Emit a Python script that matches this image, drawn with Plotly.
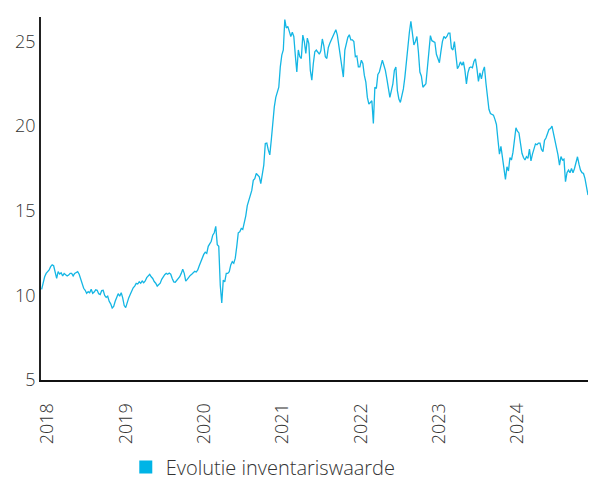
import pandas as pd
import plotly.graph_objects as go

# Weekly net asset value ("inventariswaarde"), Dec 2017 - Nov 2024
start_date = "2017-12-04"
nav_values = [
    10.35, 10.8, 11.1, 11.3, 11.4, 11.5, 11.7, 11.8, 11.75, 11.45,
    11.0, 11.4, 11.26, 11.34, 11.15, 11.3, 11.25, 11.15, 11.2, 11.3,
    11.3, 11.15, 11.3, 11.34, 11.4, 11.25, 10.95, 10.6, 10.42, 10.3,
    10.12, 10.22, 10.16, 10.36, 10.12, 10.2, 10.33, 10.3, 10.1, 10.05,
    10.28, 10.3, 10.0, 9.88, 9.95, 9.65, 9.5, 9.25, 9.35, 9.65,
    9.95, 10.1, 9.95, 10.16, 9.85, 9.4, 9.28, 9.6, 9.85, 10.05,
    10.28, 10.45, 10.55, 10.71, 10.67, 10.8, 10.72, 10.85, 10.75, 10.85,
    11.05, 11.15, 11.24, 11.1, 11.0, 10.82, 10.72, 10.55, 10.62, 10.72,
    10.95, 11.12, 11.22, 11.3, 11.25, 11.32, 11.25, 11.0, 10.8, 10.78,
    10.88, 10.95, 11.1, 11.3, 11.54, 11.3, 10.85, 10.95, 11.1, 11.18,
    11.25, 11.35, 11.42, 11.38, 11.5, 11.75, 12.0, 12.3, 12.42, 12.55,
    12.48, 12.9, 13.05, 13.2, 13.56, 13.7, 14.08, 13.0, 12.9, 10.6,
    9.55, 10.9, 10.8, 11.3, 11.3, 11.4, 11.8, 11.99, 11.9, 12.2,
    12.9, 13.7, 13.76, 13.96, 13.9, 14.3, 14.7, 15.3, 15.6, 15.9,
    16.2, 16.8, 16.9, 17.2, 17.1, 17.0, 16.6, 17.3, 17.7, 18.98,
    19.0, 18.6, 18.3, 19.18, 20.3, 21.14, 21.7, 22.05, 22.3, 23.5,
    24.2, 24.5, 26.3, 25.8, 25.9, 25.6, 25.3, 25.55, 25.3, 24.2,
    23.2, 24.5, 24.1, 24.0, 25.38, 25.0, 24.3, 25.2, 24.88, 23.3,
    22.72, 23.7, 24.4, 24.5, 24.4, 24.25, 24.45, 25.15, 24.75, 24.1,
    24.0, 24.65, 24.9, 25.1, 25.2, 25.5, 25.7, 25.38, 24.75, 24.2,
    23.7, 22.9, 24.5, 24.82, 25.25, 25.4, 25.1, 25.1, 25.0, 24.1,
    24.15, 23.5, 23.5, 23.9, 23.7, 23.0, 22.6, 21.7, 21.3, 21.4,
    21.5, 20.16, 22.3, 22.23, 23.05, 23.2, 23.6, 23.9, 23.6, 23.3,
    22.8, 22.35, 21.7, 22.1, 22.5, 23.3, 23.5, 22.1, 21.6, 21.4,
    21.8, 22.2, 22.9, 23.9, 25.05, 25.55, 26.2, 25.4, 24.8, 25.0,
    25.3, 24.4, 23.2, 22.95, 22.3, 22.4, 22.5, 23.45, 24.4, 25.35,
    25.05, 25.0, 24.95, 24.25, 23.95, 23.75, 24.4, 25.0, 25.3, 25.2,
    25.3, 25.5, 25.5, 24.6, 24.5, 25.0, 24.2, 23.4, 23.55, 23.8,
    23.6, 23.8, 23.3, 22.5, 23.15, 23.45, 23.5, 23.45, 23.82, 23.98,
    23.4, 22.65, 23.15, 22.8, 23.25, 23.5, 22.55, 21.8, 21.0, 20.75,
    20.7, 20.65, 20.4, 20.1, 19.2, 18.35, 18.8, 18.05, 17.45, 16.85,
    17.6, 17.35, 18.15, 18.0, 18.45, 19.3, 19.9, 19.7, 19.6, 19.0,
    18.4, 18.15, 18.0, 18.2, 18.1, 18.65, 17.95, 18.35, 18.7, 18.95,
    18.9, 19.0, 19.0, 18.62, 18.5, 19.15, 19.3, 19.57, 19.8, 19.86,
    20.0, 19.57, 19.2, 18.79, 18.3, 17.7, 18.2, 18.0, 18.05, 16.72,
    17.25, 17.4, 17.25, 17.5, 17.25, 17.5, 17.9, 18.19, 17.75, 17.4,
    17.25, 17.2, 16.9, 16.42, 15.93,
]
year_labels = ["2018", "2019", "2020", "2021", "2022", "2023", "2024"]
y_ticks = [5, 10, 15, 20, 25]
series_name = "Evolutie inventariswaarde"

dates = pd.date_range(start_date, periods=len(nav_values), freq="7D")
year_ticks = [f"{y}-01-01" for y in year_labels]

LINE_COLOR = "#14b6e4"
TEXT_COLOR = "#333333"
FONT = "Open Sans"

fig = go.Figure()
fig.add_trace(go.Scatter(
    x=dates, y=nav_values, mode="lines",
    line=dict(color=LINE_COLOR, width=1.3),
    showlegend=False, hoverinfo="x+y",
))
# square legend swatch
fig.add_trace(go.Scatter(
    x=[None], y=[None], mode="markers", name=series_name,
    marker=dict(symbol="square", size=13, color="#00b4e6"),
    showlegend=True,
))

fig.update_layout(
    width=597, height=484,
    margin=dict(l=41, r=9, t=17, b=104, autoexpand=False),
    paper_bgcolor="white", plot_bgcolor="white",
    font=dict(family=FONT, color=TEXT_COLOR, size=18, weight=300),
    showlegend=True,
    legend=dict(
        orientation="h", x=0.155, xanchor="left", y=-0.24, yanchor="middle",
        font=dict(size=20, color=TEXT_COLOR, weight=300),
        bgcolor="rgba(0,0,0,0)",
    ),
)
fig.update_xaxes(
    range=["2017-12-01", dates[-1]],
    tickvals=year_ticks, ticktext=year_labels, tickangle=-90,
    showgrid=False, zeroline=False, ticks="", automargin=False,
    showline=True, linecolor="#111111", linewidth=2,
    ticklabelstandoff=14,
)
fig.update_yaxes(
    range=[5, 26.45], tickvals=y_ticks, automargin=False,
    showgrid=False, zeroline=False, ticks="",
    showline=True, linecolor="#222222", linewidth=1.5,
)

fig.write_html("out.html")
